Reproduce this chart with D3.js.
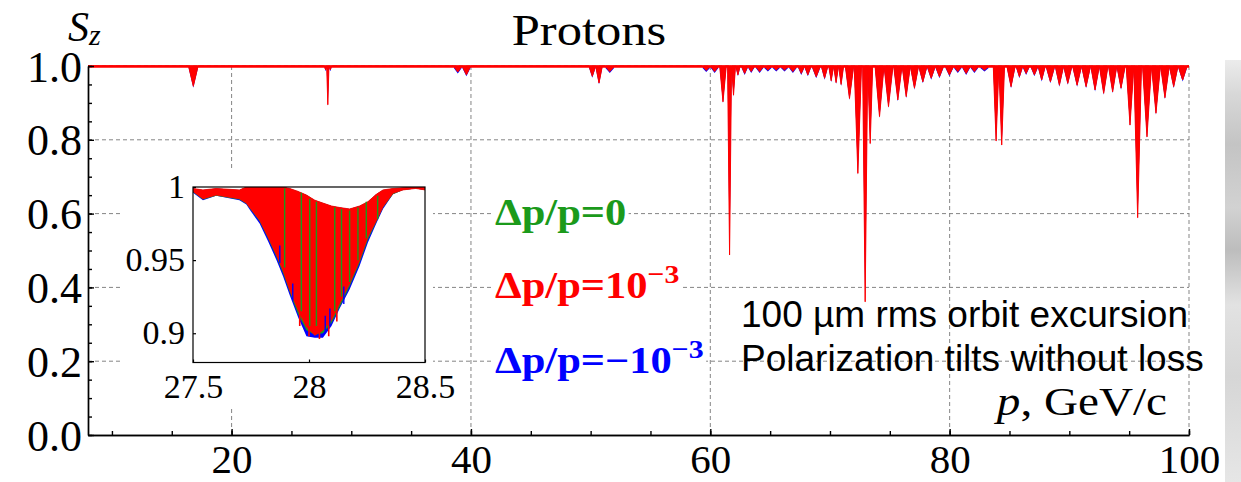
<!DOCTYPE html>
<html>
<head>
<meta charset="utf-8">
<script src="https://cdn.jsdelivr.net/npm/d3@7/dist/d3.min.js"></script>
<style>
  body { margin: 0; background: #ffffff; }
  svg { display: block; }
</style>
</head>
<body>
<div id="chart"></div>
<script>
// ---- data ----
// main curve: resonance dips, momentum p (GeV/c) and S_z at the tip
var dipP = [16.8, 27.85, 28.04, 28.25, 38.9, 39.62, 50.14, 50.70, 51.6,
  59.66, 60.36, 61.06, 61.61, 61.94,
  62.31, 62.87, 63.42, 64.12, 64.81, 65.51, 66.20, 66.90, 67.60, 68.15, 68.85, 69.55, 70.10, 70.51, 70.93, 71.63,
  72.33, 72.94, 73.36, 74.14, 74.89, 75.67, 76.37, 77.06, 77.76, 78.46,
  79.15, 79.98, 80.68, 81.38, 82.07, 82.91,
  83.88, 84.35, 85.13, 85.83, 86.39, 87.08, 87.69, 88.42, 89.17, 89.87, 90.65, 91.40, 92.15, 92.87, 93.62, 94.32,
  95.07, 95.71, 96.49, 97.24, 97.99, 98.72, 99.47];
var dipS = [0.945, 0.99, 0.895, 0.99, 0.984, 0.976, 0.972, 0.954, 0.985,
  0.988, 0.985, 0.903, 0.488, 0.921,
  0.976, 0.98, 0.985, 0.985, 0.989, 0.989, 0.989, 0.985, 0.98, 0.976, 0.971, 0.967, 0.96, 0.955, 0.95, 0.912,
  0.709, 0.361, 0.79, 0.863, 0.890, 0.908, 0.917, 0.94, 0.957, 0.967,
  0.971, 0.976, 0.985, 0.98, 0.985, 0.989,
  0.797, 0.786, 0.944, 0.971, 0.98, 0.976, 0.962, 0.957, 0.948, 0.953, 0.948, 0.944, 0.935, 0.926, 0.93, 0.94,
  0.84, 0.589, 0.808, 0.872, 0.914, 0.944, 0.962];

var xTicks = [20, 40, 60, 80, 100];
var yTicks = [0.0, 0.2, 0.4, 0.6, 0.8, 1.0];

// inset: zoom on the 28 GeV/c resonance
var insetP     = [27.5, 27.543, 27.6, 27.7, 27.73, 27.747, 27.787, 27.823, 27.86, 27.888, 27.917, 27.953, 27.989,
                  28.025, 28.06, 28.097, 28.132, 28.175, 28.218, 28.254, 28.29, 28.319, 28.362, 28.405, 28.46, 28.5];
var insetTop   = [0.999, 0.998, 0.999, 0.998, 1.0, 1.0, 1.0, 1.0, 1.0, 1.0, 0.999, 0.997, 0.9945,
                  0.991, 0.989, 0.987, 0.986, 0.985, 0.987, 0.99, 0.995, 0.998, 0.999, 0.9995, 1.0, 1.0];
var insetRed   = [0.997, 0.992, 0.9945, 0.992, 0.989, 0.9855, 0.9774, 0.966, 0.9534, 0.943, 0.9295, 0.9158, 0.9043,
                  0.8986, 0.902, 0.909, 0.9203, 0.934, 0.95, 0.966, 0.977, 0.9865, 0.9957, 0.998, 0.999, 0.998];
var insetGreen = [0.9965, 0.9915, 0.994, 0.9915, 0.9885, 0.985, 0.9765, 0.965, 0.952, 0.941, 0.928, 0.913, 0.902,
                  0.899, 0.9, 0.907, 0.918, 0.932, 0.948, 0.964, 0.976, 0.986, 0.995, 0.998, 0.999, 0.998];
var insetBlue  = [0.996, 0.991, 0.994, 0.991, 0.988, 0.984, 0.975, 0.963, 0.950, 0.939, 0.926, 0.911, 0.898,
                  0.897, 0.897, 0.905, 0.917, 0.930, 0.946, 0.962, 0.975, 0.985, 0.995, 0.998, 0.999, 0.998];
var greenStripeP  = [27.895, 27.967, 28.003, 28.032, 28.111, 28.140, 28.175, 28.211, 28.247, 28.296];
var greenStripeHi = [0.999, 0.996, 0.992, 0.990, 0.986, 0.985, 0.984, 0.986, 0.990, 0.994];
var greenStripeLo = [0.945, 0.915, 0.905, 0.905, 0.915, 0.925, 0.935, 0.95, 0.965, 0.978];
var blueStripeP   = [27.874, 27.93, 28.07, 28.09, 28.15];
var blueStripeLo  = [0.948, 0.922, 0.9, 0.905, 0.92];
var redSpikeP     = [27.96, 28.0, 28.045, 28.085, 28.12];
var redSpikeLo    = [0.905, 0.898, 0.896, 0.898, 0.908];
var insetXTicks = [27.5, 28, 28.5];
var insetYTicks = [0.9, 0.95, 1];

var legendItems = [
  {base: "\u0394p/p=0", sup: "", color: "#1b9a1b"},
  {base: "\u0394p/p=10", sup: "\u22123", color: "#ff0000"},
  {base: "\u0394p/p=\u221210", sup: "\u22123", color: "#0000ff"}
];
var noteLines = ["100 \u00b5m rms orbit excursion", "Polarization tilts without loss"];

// ---- layout ----
var W = 1241, H = 482;
var serif = "'Liberation Serif', 'Times New Roman', serif";
var sans = "'Liberation Sans', Arial, sans-serif";
var red = "#ff0000", blue = "#0000ff", green = "#1b9a1b";
var stretch = 1.15; // the original serif lettering is set wide

var svg = d3.select("#chart").append("svg")
  .attr("width", W).attr("height", H)
  .style("background", "#ffffff");

var x = d3.scaleLinear().domain([8, 100]).range([88, 1189]);
var y = d3.scaleLinear().domain([0, 1]).range([435, 66]);

// grey photo strip on the right edge
var defs = svg.append("defs");
var grad = defs.append("linearGradient")
  .attr("id", "photo").attr("x1", 0).attr("y1", 0).attr("x2", 0).attr("y2", 1);
[[0, "#ececec"], [0.08, "#d8d8d8"], [0.2, "#c4c4c4"], [0.35, "#d2d2d2"], [0.45, "#bdbdbd"],
 [0.58, "#e2e2e2"], [0.75, "#d6d6d6"], [1, "#e6e6e6"]].forEach(function(s) {
  grad.append("stop").attr("offset", s[0]).attr("stop-color", s[1]);
});
svg.append("rect").attr("x", 1225).attr("y", 60).attr("width", 16).attr("height", H - 60)
  .attr("fill", "url(#photo)");

// grid
var grid = svg.append("g")
  .attr("stroke", "#858585").attr("stroke-width", 1).attr("stroke-dasharray", "4,3");
grid.selectAll("line.h").data(yTicks.filter(function(d) { return d > 0; })).enter().append("line")
  .attr("x1", x(8)).attr("x2", x(100))
  .attr("y1", function(d) { return y(d); }).attr("y2", function(d) { return y(d); });
grid.selectAll("line.v").data(xTicks).enter().append("line")
  .attr("x1", function(d) { return x(d); }).attr("x2", function(d) { return x(d); })
  .attr("y1", y(1)).attr("y2", y(0));

// white block behind the inset
svg.append("rect").attr("x", 123).attr("y", 168).attr("width", 310).attr("height", 238).attr("fill", "#ffffff");

// main curve: each dip drawn as a wedge
var pts = [[8, 1]];
dipP.forEach(function(p, i) {
  var gl = i > 0 ? p - dipP[i - 1] : 1, gr = i < dipP.length - 1 ? dipP[i + 1] - p : 1;
  var hw = Math.min(0.4, gl * 0.5, gr * 0.5);
  pts.push([p - hw, 1], [p, dipS[i]], [p + hw, 1]);
});
pts.push([100, 1]);

var area = d3.area().x(function(d) { return x(d[0]); }).y0(y(1)).y1(function(d) { return y(d[1]); });
svg.append("path").datum(pts).attr("d", area)
  .attr("transform", "translate(0,1.5)").attr("fill", blue);
svg.append("path").datum(pts).attr("d", area)
  .attr("fill", red).attr("stroke", red).attr("stroke-width", 1);
svg.append("line").attr("x1", x(8)).attr("x2", x(100)).attr("y1", y(1) + 0.5).attr("y2", y(1) + 0.5)
  .attr("stroke", red).attr("stroke-width", 2.4);

// axes
var yMinor = d3.range(0, 1.0001, 0.05);
var xMinor = d3.range(10, 100.001, 5);
svg.append("g").attr("transform", "translate(" + x(8) + ",0)")
  .call(d3.axisLeft(y).tickValues(yMinor).tickSize(-4).tickSizeOuter(0).tickFormat(""));
svg.append("g").attr("transform", "translate(0," + y(0) + ")")
  .call(d3.axisBottom(x).tickValues(xMinor).tickSize(-4).tickSizeOuter(0).tickFormat(""));

var yAxis = svg.append("g").attr("transform", "translate(" + x(8) + ",0)")
  .call(d3.axisLeft(y).tickValues(yTicks).tickSize(-6).tickSizeOuter(0).tickPadding(6)
    .tickFormat(d3.format(".1f")));
yAxis.selectAll("text").attr("font-family", serif).attr("font-size", 44).attr("fill", "#000")
  .attr("dy", 15);
var xAxis = svg.append("g").attr("transform", "translate(0," + y(0) + ")")
  .call(d3.axisBottom(x).tickValues(xTicks).tickSize(-6).tickSizeOuter(0).tickFormat(d3.format("d")));
xAxis.selectAll("text").attr("font-family", serif).attr("font-size", 41).attr("fill", "#000")
  .attr("y", 38).attr("dy", null);
svg.selectAll(".domain, .tick line").attr("stroke", "#000").attr("stroke-width", 1.4);

// title and axis labels
svg.append("text").attr("transform", "translate(589,45) scale(" + stretch + ",1)")
  .attr("text-anchor", "middle")
  .attr("font-family", serif).attr("font-size", 44).text("Protons");
var sz = svg.append("text").attr("x", 68).attr("y", 41).attr("font-family", serif).attr("font-style", "italic");
sz.append("tspan").attr("font-size", 42).text("S");
sz.append("tspan").attr("font-size", 30).attr("dy", 4).text("z");

var pl = svg.append("text").attr("transform", "translate(1167,415) scale(" + stretch + ",1)")
  .attr("text-anchor", "end")
  .attr("font-family", serif).attr("font-size", 41);
pl.append("tspan").attr("font-style", "italic").text("p");
pl.append("tspan").text(", GeV/c");

// legend with white backing boxes
var legendY = [225, 298, 373];
legendItems.forEach(function(d, i) {
  var g = svg.append("g").attr("transform", "translate(495," + legendY[i] + ") scale(" + stretch + ",1)");
  var t = g.append("text").attr("x", 0).attr("y", 0)
    .attr("font-family", serif).attr("font-weight", "bold").attr("font-size", 37).attr("fill", d.color);
  t.append("tspan").text(d.base);
  if (d.sup) t.append("tspan").attr("font-size", 26).attr("dy", -15).text(d.sup);
  var b = t.node().getBBox();
  g.insert("rect", "text").attr("x", b.x - 2).attr("y", b.y + 4).attr("width", b.width + 4)
    .attr("height", b.height - 6).attr("fill", "#ffffff");
});

// note text (drawn over the grid)
svg.selectAll("text.note").data(noteLines).enter().append("text").attr("class", "note")
  .attr("x", 741).attr("y", function(d, i) { return 327 + i * 43.5; })
  .attr("font-family", sans).attr("font-size", 37).attr("fill", "#000")
  .text(function(d) { return d; });

// ---- inset ----
var ix = d3.scaleLinear().domain([27.5, 28.5]).range([193, 425]);
var iy = d3.scaleLinear().domain([0.88, 1.0]).range([362.5, 187]);
var inset = svg.append("g");
defs.append("clipPath").attr("id", "insetClip").append("rect")
  .attr("x", 193).attr("y", 187).attr("width", 232).attr("height", 175.5);
var ic = inset.append("g").attr("clip-path", "url(#insetClip)");

function band(lo) {
  return d3.area().x(function(d, i) { return ix(insetP[i]); })
    .y0(function(d, i) { return iy(insetTop[i]); })
    .y1(function(d, i) { return iy(lo[i]); })(insetP);
}
ic.append("path").attr("d", band(insetBlue)).attr("fill", blue);
ic.append("path").attr("d", band(insetGreen)).attr("fill", green);
ic.append("path").attr("d", band(insetRed)).attr("fill", red).attr("stroke", red).attr("stroke-width", 0.8);
ic.selectAll("line.r").data(redSpikeP).enter().append("line")
  .attr("x1", function(d) { return ix(d); }).attr("x2", function(d) { return ix(d); })
  .attr("y1", function(d, i) { return iy(redSpikeLo[i] + 0.015); })
  .attr("y2", function(d, i) { return iy(redSpikeLo[i]); })
  .attr("stroke", red).attr("stroke-width", 1.6);
ic.selectAll("line.g").data(greenStripeP).enter().append("line")
  .attr("x1", function(d) { return ix(d); }).attr("x2", function(d) { return ix(d); })
  .attr("y1", function(d, i) { return iy(greenStripeHi[i]); })
  .attr("y2", function(d, i) { return iy(greenStripeLo[i]); })
  .attr("stroke", green).attr("stroke-width", 1.4);
ic.selectAll("line.b").data(blueStripeP).enter().append("line")
  .attr("x1", function(d) { return ix(d); }).attr("x2", function(d) { return ix(d); })
  .attr("y1", function(d, i) { return iy(blueStripeLo[i] + 0.012); })
  .attr("y2", function(d, i) { return iy(blueStripeLo[i]); })
  .attr("stroke", blue).attr("stroke-width", 1.4);

inset.append("rect").attr("x", 193).attr("y", 187).attr("width", 232).attr("height", 175.5)
  .attr("fill", "none").attr("stroke", "#000").attr("stroke-width", 1.2);
var iya = inset.append("g").attr("transform", "translate(193,0)")
  .call(d3.axisLeft(iy).tickValues(insetYTicks).tickSize(-3).tickSizeOuter(0).tickPadding(8)
    .tickFormat(function(d) { return String(d); }));
iya.select(".domain").remove();
iya.selectAll("text").attr("font-family", serif).attr("font-size", 34).attr("fill", "#000").attr("dy", 10.5);
var ixa = inset.append("g").attr("transform", "translate(0,362.5)")
  .call(d3.axisBottom(ix).tickValues(insetXTicks).tickSize(-3).tickSizeOuter(0)
    .tickFormat(function(d) { return String(d); }));
ixa.select(".domain").remove();
ixa.selectAll("text").attr("font-family", serif).attr("font-size", 34).attr("fill", "#000")
  .attr("y", 35.5).attr("dy", null);
inset.selectAll(".tick line").attr("stroke", "#000").attr("stroke-width", 1.2);
</script>
</body>
</html>
